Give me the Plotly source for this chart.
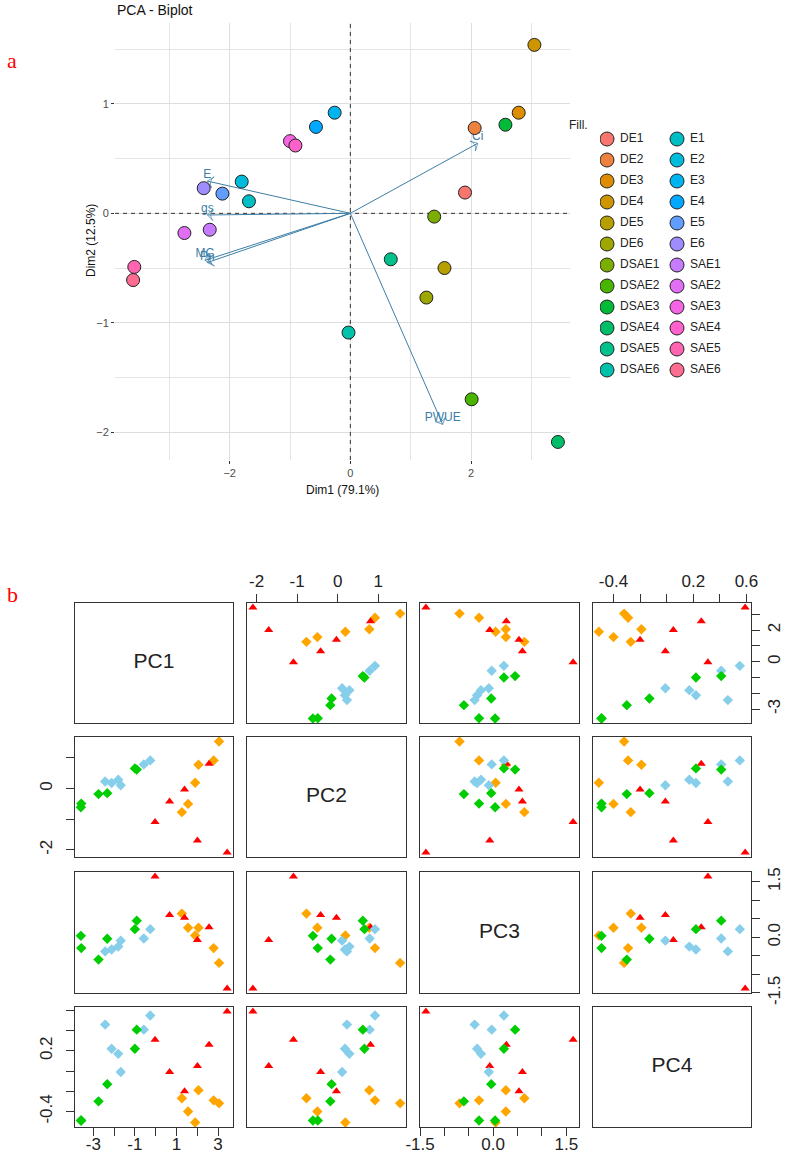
import math
import plotly.graph_objects as go

W, H = 789, 1164          # browser window
OFF = 0                   # body margin is removed by the post script below
FW, FH = W - 2 * OFF, H - 2 * OFF

# ---------------- data ----------------
samples = ["DE1", "DE2", "DE3", "DE4", "DE5", "DE6",
           "DSAE1", "DSAE2", "DSAE3", "DSAE4", "DSAE5", "DSAE6",
           "E1", "E2", "E3", "E4", "E5", "E6",
           "SAE1", "SAE2", "SAE3", "SAE4", "SAE5", "SAE6"]
groups = ["DE"] * 6 + ["DSAE"] * 6 + ["E"] * 6 + ["SAE"] * 6

pc1 = [1.90, 2.06, 2.79, 3.05, 1.56, 1.26,
       1.39, 2.01, 2.57, 3.44, 0.67, -0.03,
       -1.68, -1.80, -0.26, -0.57, -2.12, -2.43,
       -2.33, -2.75, -1.00, -0.91, -3.58, -3.60]
pc2 = [0.19, 0.78, 0.92, 1.54, -0.50, -0.77,
       -0.03, -1.70, 0.81, -2.09, -0.42, -1.09,
       0.11, 0.29, 0.92, 0.79, 0.18, 0.23,
       -0.15, -0.18, 0.66, 0.62, -0.49, -0.61]
pc3 = [0.05, 0.26, -0.29, -0.69, 0.26, 0.64,
       0.53, -0.07, 0.27, -1.38, 0.60, 1.64,
       -0.09, -0.25, 0.22, -0.03, -0.33, -0.38,
       -0.04, -0.60, 0.22, 0.45, -0.29, 0.04]
pc4 = [-0.51, -0.19, -0.29, -0.32, -0.40, -0.27,
       -0.20, 0.05, 0.26, 0.59, -0.01, 0.31,
       -0.01, 0.17, 0.55, 0.41, 0.22, 0.46,
       -0.13, -0.30, 0.22, 0.41, -0.49, -0.49]

var_names = ["E", "gs", "MC", "Pn", "Ci", "PWUE"]
var_dim1 = [-2.37, -2.37, -2.41, -2.37, 2.11, 1.53]
var_dim2 = [0.295, -0.015, -0.43, -0.45, 0.64, -1.93]

pc_names = ["PC1", "PC2", "PC3", "PC4"]
x_tick_vals = [[-3, -2, -1, 0, 1, 2, 3], [-2, -1, 0, 1],
               [-1.5, -1, -0.5, 0, 0.5, 1, 1.5], [-0.4, -0.2, 0, 0.2, 0.4, 0.6]]
x_tick_text = [["-3", "", "-1", "", "1", "", "3"], ["-2", "-1", "0", "1"],
               ["-1.5", "", "", "0.0", "", "", "1.5"], ["-0.4", "", "", "0.2", "", "0.6"]]
y_tick_vals = x_tick_vals
y_tick_text = [["-3", "", "", "0", "", "2", ""], ["-2", "", "0", ""],
               ["-1.5", "", "", "0.0", "", "", "1.5"], ["-0.4", "", "", "0.2", "", ""]]

group_colors = {"DE": "#FFA500", "DSAE": "#FF0000", "E": "#87CEEB", "SAE": "#00CD00"}
group_symbols = {"DE": "diamond", "DSAE": "triangle-up", "E": "diamond", "SAE": "diamond"}


# ---------------- helpers ----------------
def hcl_hex(h, c=100.0, l=65.0):
    Xn, Yn, Zn = 95.047, 100.0, 108.883
    Y = Yn * ((l + 16) / 116) ** 3
    hr = math.radians(h)
    u, v = c * math.cos(hr), c * math.sin(hr)
    den = Xn + 15 * Yn + 3 * Zn
    un, vn = 4 * Xn / den, 9 * Yn / den
    up, vp = u / (13 * l) + un, v / (13 * l) + vn
    X = 9 * Y * up / (4 * vp)
    Z = Y * (12 - 3 * up - 20 * vp) / (4 * vp)
    X, Y, Z = X / 100, Y / 100, Z / 100
    rgb = [3.240479 * X - 1.537150 * Y - 0.498535 * Z,
           -0.969256 * X + 1.875992 * Y + 0.041556 * Z,
           0.055648 * X - 0.204043 * Y + 1.057311 * Z]
    out = []
    for ch in rgb:
        ch = 12.92 * ch if ch <= 0.0031308 else 1.055 * ch ** (1 / 2.4) - 0.055
        out.append(int(round(min(max(ch, 0), 1) * 255)))
    return "#%02X%02X%02X" % tuple(out)


n = len(samples)
fill_colors = [hcl_hex(15 + 15 * k) for k in range(n)]


def px(a):
    return (a - OFF) / FW


def py(b):
    return 1 - (b - OFF) / FH


def xd(a, b):
    return [px(a), px(b)]


def yd(top, bot):
    return [py(bot), py(top)]


def r_range(v):
    lo, hi = min(v), max(v)
    d = (hi - lo) * 0.04
    return [lo - d, hi + d]


fig = go.Figure()
layout = {}
annotations = []

FONT = "Liberation Sans, Arial, sans-serif"
ARROW_COL = "#3D7EA6"

# ---------------- biplot ----------------
BX_RANGE = [-3.90, 3.64]
BY_RANGE = [-2.255, 1.74]
fig.add_trace(go.Scatter(x=[0, 0], y=BY_RANGE, mode="lines",
                         line=dict(color="#333333", width=1, dash="4px,4px"),
                         xaxis="x", yaxis="y", showlegend=False, hoverinfo="skip"))
fig.add_trace(go.Scatter(x=BX_RANGE, y=[0, 0], mode="lines",
                         line=dict(color="#333333", width=1, dash="4px,4px"),
                         xaxis="x", yaxis="y", showlegend=False, hoverinfo="skip"))
for k in range(len(var_names)):
    fig.add_trace(go.Scatter(
        x=[0, var_dim1[k]], y=[0, var_dim2[k]], mode="lines+markers",
        line=dict(color=ARROW_COL, width=1),
        marker=dict(symbol=["circle", "arrow-wide-open"], size=[1, 8],
                    angleref="previous", color=ARROW_COL,
                    line=dict(color=ARROW_COL, width=1)),
        xaxis="x", yaxis="y", showlegend=False, hoverinfo="skip"))
fig.add_trace(go.Scatter(
    x=var_dim1, y=var_dim2, mode="text", text=var_names, textposition="top center",
    textfont=dict(family=FONT, size=12, color=ARROW_COL),
    xaxis="x", yaxis="y", showlegend=False))
fig.add_trace(go.Scatter(
    x=pc1, y=pc2, mode="markers", text=samples,
    marker=dict(size=13, color=fill_colors, line=dict(color="#222222", width=1)),
    xaxis="x", yaxis="y", showlegend=False))

layout["xaxis"] = dict(domain=xd(115, 570), range=BX_RANGE, anchor="y", automargin=False,
                       tick0=0, dtick=2, showgrid=True, gridcolor="#DEDEDE", gridwidth=1,
                       minor=dict(dtick=1, showgrid=True, gridcolor="#E4E4E4", gridwidth=1),
                       ticks="outside", ticklen=3, tickcolor="#333333", zeroline=False,
                       showline=False, tickfont=dict(family=FONT, size=11, color="#4D4D4D"))
layout["yaxis"] = dict(domain=yd(23, 460), range=BY_RANGE, anchor="x", automargin=False,
                       tick0=0, dtick=1, showgrid=True, gridcolor="#DEDEDE", gridwidth=1,
                       minor=dict(dtick=0.5, showgrid=True, gridcolor="#E4E4E4", gridwidth=1),
                       ticks="outside", ticklen=3, tickcolor="#333333", zeroline=False,
                       showline=False, tickfont=dict(family=FONT, size=11, color="#4D4D4D"))

annotations.append(dict(text="PCA - Biplot", x=px(115), y=py(10), xref="paper", yref="paper",
                        xanchor="left", yanchor="middle", showarrow=False,
                        font=dict(family=FONT, size=14, color="#111111")))
annotations.append(dict(text="Dim1 (79.1%)", x=px(342), y=py(490), xref="paper", yref="paper",
                        xanchor="center", yanchor="middle", showarrow=False,
                        font=dict(family=FONT, size=12, color="#111111")))
annotations.append(dict(text="Dim2 (12.5%)", x=px(91), y=py(241), xref="paper", yref="paper",
                        xanchor="center", yanchor="middle", showarrow=False, textangle=-90,
                        font=dict(family=FONT, size=12, color="#111111")))

# ---------------- manual legend ----------------
half = n // 2
leg_x = [0] * half + [1] * half
leg_y = list(range(half)) * 2
fig.add_trace(go.Scatter(
    x=leg_x, y=leg_y, mode="markers+text", text=[" " + s for s in samples],
    textposition="middle right",
    textfont=dict(family=FONT, size=12, color="#222222"),
    marker=dict(size=14, color=fill_colors, line=dict(color="#222222", width=1)),
    xaxis="x2", yaxis="y2", showlegend=False, hoverinfo="skip"))
layout["xaxis2"] = dict(domain=xd(600, 780), range=[-0.1, 2.471], anchor="y2",
                        visible=False, fixedrange=True, automargin=False)
layout["yaxis2"] = dict(domain=yd(130, 380), range=[11.476, -0.429], anchor="x2",
                        visible=False, fixedrange=True, automargin=False)
annotations.append(dict(text="Fill.", x=px(567), y=py(125), xref="paper", yref="paper",
                        xanchor="left", yanchor="middle", showarrow=False,
                        font=dict(family=FONT, size=12, color="#222222")))

# ---------------- scatter matrix ----------------
col_px = [(75, 233), (247, 406), (420, 579), (593, 751)]
row_px = [(603, 723), (737, 857), (872, 993), (1007, 1127)]
pcs = [pc1, pc2, pc3, pc4]
ranges = [r_range(v) for v in pcs]
TICKFONT = dict(family=FONT, size=17, color="#222222")

for i in range(4):
    for j in range(4):
        idx = 3 + i * 4 + j
        xa, ya = "x%d" % idx, "y%d" % idx
        xax = dict(domain=xd(*col_px[j]), range=ranges[j], anchor=ya, automargin=False,
                   showgrid=False, zeroline=False, showline=True, mirror=True,
                   linecolor="#333333", linewidth=1, fixedrange=True,
                   showticklabels=False, ticks="")
        yax = dict(domain=yd(*row_px[i]), range=ranges[i], anchor=xa, automargin=False,
                   showgrid=False, zeroline=False, showline=True, mirror=True,
                   linecolor="#333333", linewidth=1, fixedrange=True,
                   showticklabels=False, ticks="")
        if i == 0 and j in (1, 3):
            xax.update(side="top", ticks="outside", ticklen=8, tickcolor="#333333",
                       tickvals=x_tick_vals[j], ticktext=x_tick_text[j],
                       showticklabels=True, tickfont=TICKFONT)
        if i == 3 and j in (0, 2):
            xax.update(side="bottom", ticks="outside", ticklen=8, tickcolor="#333333",
                       tickvals=x_tick_vals[j], ticktext=x_tick_text[j],
                       showticklabels=True, tickfont=TICKFONT, ticklabelstandoff=-6)
        if j == 0 and i in (1, 3):
            yax.update(side="left", ticks="outside", ticklen=8, tickcolor="#333333",
                       tickvals=y_tick_vals[i], ticktext=y_tick_text[i],
                       showticklabels=True, tickfont=TICKFONT, tickangle=-90,
                       ticklabelstandoff=7)
        if j == 3 and i in (0, 2):
            yax.update(side="right", ticks="outside", ticklen=8, tickcolor="#333333",
                       tickvals=y_tick_vals[i], ticktext=y_tick_text[i],
                       showticklabels=True, tickfont=TICKFONT, tickangle=-90)
        layout["xaxis%d" % idx] = xax
        layout["yaxis%d" % idx] = yax
        if i == j:
            cx = (ranges[j][0] + ranges[j][1]) / 2
            cy = (ranges[i][0] + ranges[i][1]) / 2
            fig.add_trace(go.Scatter(
                x=[cx], y=[cy], mode="text", text=[pc_names[i]],
                textfont=dict(family=FONT, size=21, color="#222222"),
                xaxis=xa, yaxis=ya, showlegend=False, hoverinfo="skip"))
            continue
        for g in ["DE", "DSAE", "E", "SAE"]:
            sel = [k for k in range(n) if groups[k] == g]
            fig.add_trace(go.Scatter(
                x=[pcs[j][k] for k in sel], y=[pcs[i][k] for k in sel], mode="markers",
                marker=dict(symbol=group_symbols[g], color=group_colors[g],
                            size=8, line=dict(width=0)),
                xaxis=xa, yaxis=ya, showlegend=False))

# ---------------- panel letters ----------------
annotations.append(dict(text="a", x=px(12), y=py(60), xref="paper", yref="paper",
                        xanchor="center", yanchor="middle", showarrow=False,
                        font=dict(family="Liberation Serif, serif", size=22, color="#FF0000")))
annotations.append(dict(text="b", x=px(12), y=py(594), xref="paper", yref="paper",
                        xanchor="center", yanchor="middle", showarrow=False,
                        font=dict(family="Liberation Serif, serif", size=22, color="#FF0000")))

fig.update_layout(**layout)
fig.update_layout(width=FW, height=FH, margin=dict(l=0, r=0, t=0, b=0, autoexpand=False),
                  paper_bgcolor="white", plot_bgcolor="white",
                  annotations=annotations, showlegend=False,
                  font=dict(family=FONT))
fig.write_html("out.html", config={"displayModeBar": False},
               post_script="document.body.style.margin='0';document.body.style.overflow='hidden';")
